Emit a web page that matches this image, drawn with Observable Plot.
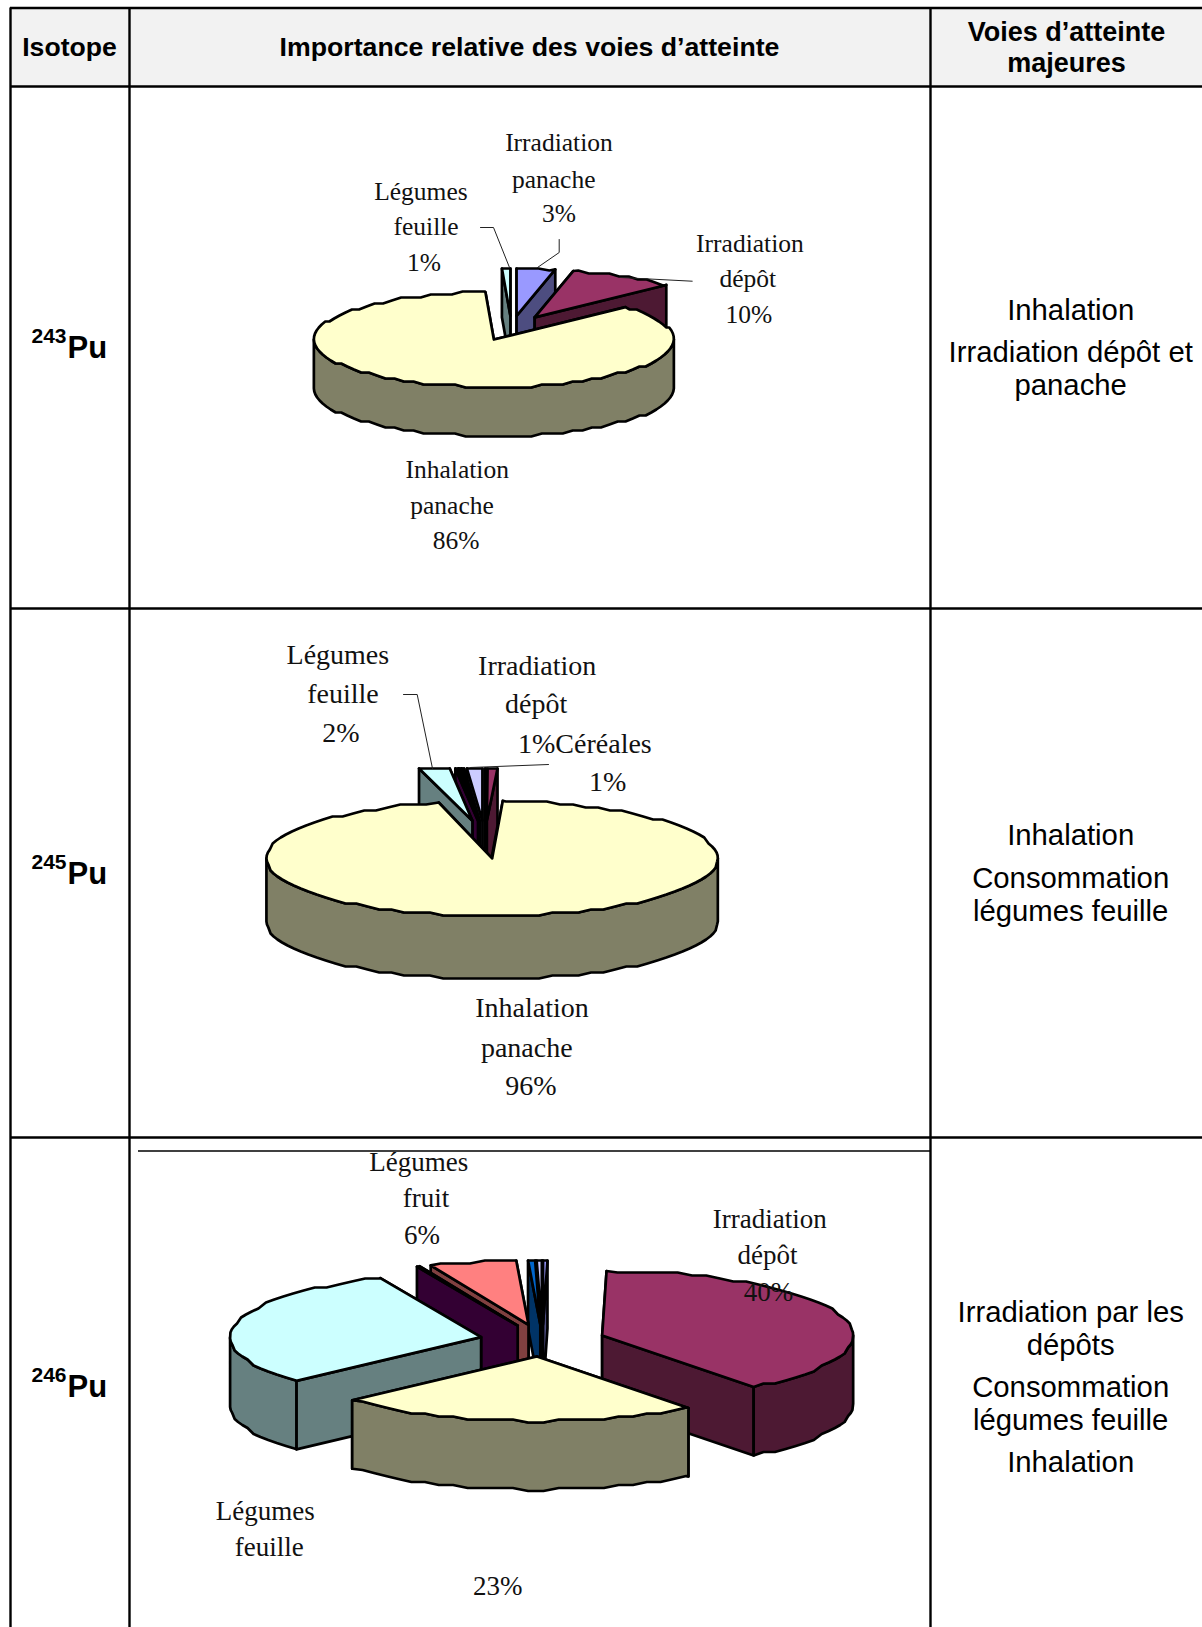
<!DOCTYPE html>
<html lang="fr">
<head>
<meta charset="utf-8">
<title>Voies d'atteinte</title>
<style>html,body{margin:0;padding:0;background:#fff}svg{display:block}</style>
<script src="https://cdn.jsdelivr.net/npm/d3@7"></script>
<script src="https://cdn.jsdelivr.net/npm/@observablehq/plot@0.6"></script>
</head>
<body>
<div id="chart"></div>
<script>
// ---- Data: slices go clockwise from twelve o'clock, in the file's series order
const series = ["Irradiation panache","Irradiation dépôt","Inhalation panache","Légumes feuille","Légumes racine","Légumes fruit","Céréales bis","Céréales"];
const pu243 = [3.45, 9.6, 86.2, 0.75, 0, 0, 0, 0];
const pu245 = [0.05, 0.7, 95.4, 2.2, 0.2, 0.15, 0.15, 1.1];
const pu246 = [0.28, 39.45, 23.5, 30.3, 0.2, 5.6, 0.45, 0.33];

const topColours  = ["#9999ff","#993366","#ffffcc","#ccffff","#660066","#ff8080","#0066cc","#ccccff"];
const sideColours = ["#4d4d80","#4d1933","#808066","#668080","#330033","#804040","#003366","#666680"];

const isotopeMass = ["243","245","246"];
const headers = ["Isotope","Importance relative des voies d’atteinte"];
const headerMajor = ["Voies d’atteinte","majeures"];

// ---- Layout (pixels of the page)
const PAGE = {w:1202,h:1627};
const GRID = {left:10,col1:129,col2:930,top:7.5,head:86,row1:608,row2:1137};
const pies = [
  {values:pu243,cx:511,  cy:327.6,rx:180,  ry:47.5,depth:49,  explode:.26,clip:268},
  {values:pu245,cx:484.5,cy:839,  rx:225.7,ry:57.5,depth:63,  explode:.33,clip:768},
  {values:pu246,cx:542,  cy:1340, rx:251,  ry:64.5,depth:68.5,explode:.25,clip:1260}
];
const U = 1202/1158;
const labelRows = [
  // text, x, y, size
  ["Irradiation",538,137,25.5],["panache",533,173,25.5],["3%",538,206,25.5],
  ["Légumes",405,184,25.5],["feuille",410,218,25.5],["1%",408,253,25.5],
  ["Irradiation",722,234,25.5],["dépôt",720,268,25.5],["10%",721,303,25.5],
  ["Inhalation",440,452,25.5],["panache",435,487,25.5],["86%",439,521,25.5],
  ["Légumes",325,631,28],["feuille",330,668,28],["2%",328,706,28],
  ["Irradiation",517,641,28],["dépôt",516,678,28],["1%Céréales",563,716,28],["1%",585,753,28],
  ["Inhalation",512,971,28],["panache",507,1009,28],["96%",511,1046,28],
  ["Légumes",403,1119,27],["fruit",410,1154,27],["6%",406,1190,27],
  ["Irradiation",741,1174,27],["dépôt",739,1209,27],["40%",740,1245,27],
  ["Légumes",255,1456,27],["feuille",259,1490,27],["23%",479,1528,27]
];
const majorRows = [
  ["Inhalation",299],["Irradiation dépôt et",339],["panache",371],
  ["Inhalation",805],["Consommation",846],["légumes feuille",878],
  ["Irradiation par les",1264],["dépôts",1296],["Consommation",1336],["légumes feuille",1368],["Inhalation",1409]
];
const isotopeY = [335,842,1336];
const leaders = [
  [[480,227],[493,227],[509,267]],
  [[558.7,239],[558.7,252],[537,267]],
  [[620,277],[691.7,280.7]],
  [[403,694],[416.7,694],[432,768]],
  [[548,764],[470,767]]
];

// ---- Turning each value into the outline of a 3D slice
const STEP = 3.5, STAIR = 3;
function slicePolygons(pie, pieIndex){
  const total = d3.sum(pie.values);
  let start = 0;
  const slices = [];
  pie.values.forEach((v,i)=>{
    if(!v){return;}
    const a0 = start, a1 = start + v/total*360; start = a1;
    const mid = (a0+a1)/2*Math.PI/180;
    slices.push({i,a0,a1,
      ax: pie.cx + pie.explode*pie.rx*Math.sin(mid),
      ay: pie.cy - pie.explode*pie.ry*Math.cos(mid)});
  });
  slices.sort((p,q)=>p.ay-q.ay);
  const polys = [];
  const clip = y => Math.max(y,pie.clip);
  const add = (pts,fill,tag)=>polys.push({id:`${pieIndex}-${tag}-${polys.length}`,fill,pts:pts.concat([pts[0]])});
  for(const s of slices){
    const rim = a => {
      const r=a*Math.PI/180;
      return [s.ax+pie.rx*Math.sin(r), s.ay-pie.ry*Math.cos(r)];
    };
    const arc = (from,to) => {
      const pts=[rim(from)];
      for(let a=Math.ceil(from/STEP)*STEP; a<to; a+=STEP){
        if(a<=from) continue;
        const [x,y]=rim(a);
        pts.push([x,Math.round(y/STAIR)*STAIR]);
      }
      pts.push(rim(to));
      return pts;
    };
    const A=[s.ax,s.ay], R0=rim(s.a0), R1=rim(s.a1);
    const face = R => [[A[0],clip(A[1])],[R[0],clip(R[1])],[R[0],clip(R[1]+pie.depth)],[A[0],clip(A[1]+pie.depth)]];
    const faces=[R0,R1].sort((p,q)=>p[1]-q[1]);
    faces.forEach(R=>add(face(R),sideColours[s.i],"face"));
    const w0=Math.max(s.a0,90), w1=Math.min(s.a1,270);
    if(w1>w0){
      const top=arc(w0,w1);
      const bottom=top.slice().reverse().map(([x,y])=>[x,y+pie.depth]);
      add(top.concat(bottom),sideColours[s.i],"wall");
    }
    add([A].concat(arc(s.a0,s.a1)).map(([x,y])=>[x,clip(y)]),topColours[s.i],"top");
  }
  return polys;
}
const outline = pies.flatMap(slicePolygons)
  .flatMap(p=>p.pts.map(([x,y])=>({id:p.id,fill:p.fill,x,y})));

const labels = labelRows.map(([text,x,y,size])=>({text,x:x*U,y:y*U,size}));
const majors = majorRows.map(([text,y])=>({text,x:1031*U,y:y*U}));
const leaderPts = leaders.flatMap((l,id)=>l.map(([x,y])=>({id,x,y})));

const SANS="Liberation Sans, Arial, sans-serif", SERIF="Liberation Serif, Times New Roman, serif";
const chart = Plot.plot({
  width:PAGE.w,height:PAGE.h,margin:0,
  x:{domain:[0,PAGE.w],range:[0,PAGE.w],axis:null},
  y:{domain:[0,PAGE.h],range:[0,PAGE.h],axis:null},
  color:{type:"identity"},
  style:{background:"#fff"},
  marks:[
    Plot.rect([0],{x1:GRID.left,x2:PAGE.w,y1:GRID.top,y2:GRID.head,fill:"#f2f2f2"}),
    Plot.line(outline,{x:"x",y:"y",z:"id",fill:"fill",stroke:"#000",strokeWidth:2.7,strokeLinejoin:"round"}),
    Plot.ruleY([GRID.top,GRID.head,GRID.row1,GRID.row2],{x1:GRID.left,x2:PAGE.w,y:d=>d,stroke:"#000",strokeWidth:2.4}),
    Plot.ruleX([GRID.left,GRID.col1,GRID.col2],{x:d=>d,y1:GRID.top,y2:PAGE.h,stroke:"#000",strokeWidth:2.4}),
    Plot.ruleY([1150.5],{x1:138,x2:GRID.col2,y:d=>d,stroke:"#000",strokeWidth:1.4}),
    Plot.line(leaderPts,{x:"x",y:"y",z:"id",stroke:"#222",strokeWidth:1}),
    Plot.text(labels,{x:"x",y:"y",text:"text",fontSize:d=>d.size,fontFamily:SERIF,fill:"#111",textAnchor:"middle"}),
    Plot.text([headers[0]],{x:69,y:47,text:d=>d,fontFamily:SANS,fontWeight:"bold",fontSize:26.6,fill:"#000"}),
    Plot.text([headers[1]],{x:529,y:47,text:d=>d,fontFamily:SANS,fontWeight:"bold",fontSize:26.7,fill:"#000"}),
    Plot.text(headerMajor,{x:1066,y:(d,i)=>32+i*31,text:d=>d,fontFamily:SANS,fontWeight:"bold",fontSize:27,fill:"#000"}),
    Plot.text(isotopeMass,{x:31,y:(d,i)=>isotopeY[i]*U-12,text:d=>d,textAnchor:"start",fontFamily:SANS,fontWeight:"bold",fontSize:21,fill:"#000"}),
    Plot.text(isotopeMass,{x:67,y:(d,i)=>isotopeY[i]*U,text:()=>"Pu",textAnchor:"start",fontFamily:SANS,fontWeight:"bold",fontSize:31,fill:"#000"}),
    Plot.text(majors,{x:"x",y:"y",text:"text",fontFamily:SANS,fontSize:29.3,fill:"#000"})
  ]
});
document.getElementById("chart").append(chart);
</script>
</body>
</html>
